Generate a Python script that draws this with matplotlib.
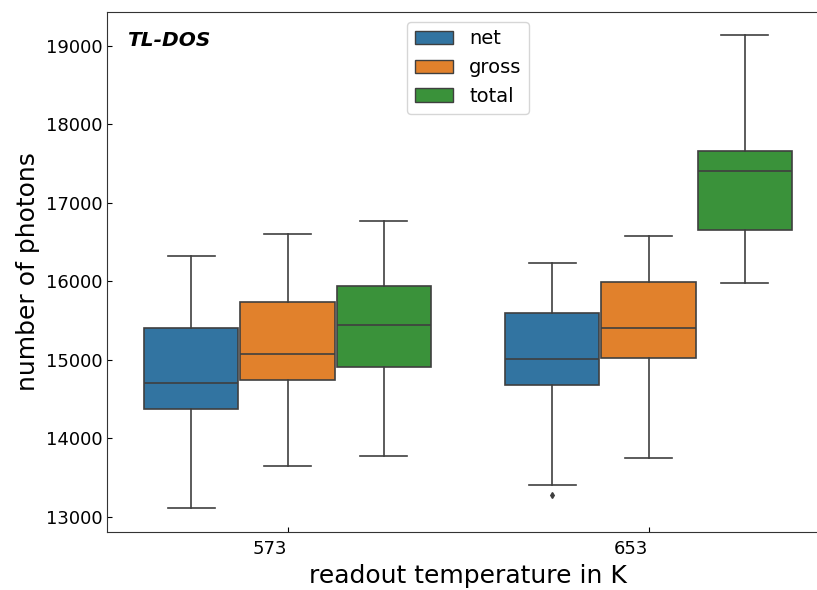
import matplotlib
matplotlib.use("Agg")
import matplotlib.pyplot as plt
from matplotlib.patches import Patch

# box statistics (number of photons)
temps = ["573", "653"]
groups = ["net", "gross", "total"]
colors = ["#3274a1", "#e1812c", "#3a923a"]

whislo = [[13106, 13641, 13768], [13399, 13752, 15977]]
q1 = [[14376, 14736, 14902], [14678, 15017, 16647]]
med = [[14698, 15068, 15437], [15009, 15399, 17404]]
q3 = [[15404, 15739, 15934], [15590, 15994, 17662]]
whishi = [[16316, 16596, 16762], [16227, 16580, 19136]]
fliers = [[[], [], []], [[13271], [], []]]

def plotBoxes():
	fig = plt.figure(figsize=(8.17, 5.9), dpi=100)
	ax = fig.add_axes([0.131, 0.0983, 0.8837, 0.8814])

	width = 0.8 / len(groups)
	for i in range(len(temps)):
		for j in range(len(groups)):
			stats = [{
				"whislo": whislo[i][j], "q1": q1[i][j], "med": med[i][j],
				"q3": q3[i][j], "whishi": whishi[i][j], "fliers": fliers[i][j],
			}]
			pos = i + (j - 1) * width
			ax.bxp(stats, positions=[pos], widths=width * 0.98, patch_artist=True,
				showfliers=True, manage_ticks=False,
				boxprops=dict(facecolor=colors[j], edgecolor="#3f3f3f", linewidth=1.2),
				medianprops=dict(color="#3f3f3f", linewidth=1.2),
				whiskerprops=dict(color="#3f3f3f", linewidth=1.2),
				capprops=dict(color="#3f3f3f", linewidth=1.2),
				flierprops=dict(marker="d", markersize=3, markerfacecolor="#3f3f3f",
					markeredgecolor="#3f3f3f"))

	ax.set_xlim(-0.5, 1.5)
	ax.set_ylim(12805, 19430)
	ax.set_xticks(range(len(temps)))
	ax.set_xticklabels(temps, ha="right")
	ax.set_yticks([13000, 14000, 15000, 16000, 17000, 18000, 19000])
	ax.tick_params(direction="in", labelsize=13)
	ax.tick_params(axis="x", pad=6)
	ax.set_xlabel("readout temperature in K", fontsize=18, labelpad=4)
	ax.set_ylabel("number of photons", fontsize=18)

	for s in ax.spines.values():
		s.set_color("#333333")

	ax.text(0.028, 0.946, "TL-DOS", transform=ax.transAxes, fontsize=14.5,
		fontweight="bold", fontstyle="italic", va="center", ha="left")

	handles = [Patch(facecolor=colors[j], edgecolor="#3f3f3f", label=groups[j]) for j in range(len(groups))]
	ax.legend(handles=handles, loc="upper center", fontsize=14)

	fig.savefig("out.png", dpi=100)

if __name__ == "__main__":
	plotBoxes()
